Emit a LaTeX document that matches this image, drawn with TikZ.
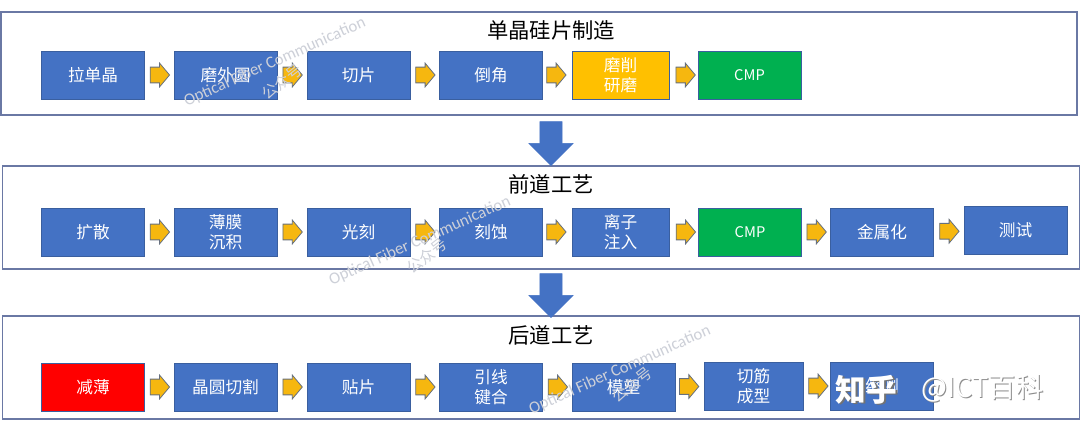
\documentclass[tikz,border=0pt]{standalone}
\usepackage{xcolor}
\usepackage{fontspec}
\setmainfont{Noto Sans CJK SC}
\newfontfamily\latinwm{Carlito}
\usetikzlibrary{shapes.arrows, positioning, calc}
\definecolor{stepblue}{HTML}{4472C4}
\definecolor{stepedge}{HTML}{3A5F9F}
\definecolor{paneledge}{HTML}{6A78A4}
\definecolor{stepgold}{HTML}{FFC000}
\definecolor{stepgreen}{HTML}{00B050}
\definecolor{arrowgold}{HTML}{F6B70F}
\definecolor{arrowedge}{HTML}{66707F}
\definecolor{markgray}{HTML}{CDD0D8}

\begin{document}
\begin{tikzpicture}[
    x=0.75pt, y=-0.75pt,
    panel/.style={draw=paneledge, line width=0.8pt, fill=white, minimum height=77.25pt},
    paneltitle/.style={font=\fontsize{16}{19}\selectfont, text=black, inner sep=0pt},
    stepbox/.style={draw=stepedge, line width=0.5pt, fill=stepblue, text=white, minimum width=77pt, minimum height=36pt, inner sep=0pt, align=center, font=\fontsize{12.5}{15}\selectfont},
    cmpbox/.style={stepbox, fill=stepgreen, font=\fontsize{11}{13}\selectfont},
    flowarrow/.style={single arrow, draw=arrowedge, line width=0.6pt, fill=arrowgold, minimum height=14.5pt, single arrow head extend=3pt, single arrow tip angle=100, inner xsep=0pt, inner ysep=5.6pt, xshift=-2pt},
    stagearrow/.style={single arrow, shape border rotate=270, fill=stepblue, draw=stepblue, line width=0.3pt, minimum height=33pt, single arrow head extend=8.25pt, single arrow tip angle=90, inner xsep=8.25pt, inner ysep=0pt},
    markline/.style={rotate=24, text=markgray, inner sep=0pt, font=\latinwm\fontsize{12.5}{14}\selectfont},
    markname/.style={rotate=38, text=markgray, inner sep=0pt, font=\fontsize{11.5}{13}\selectfont}
]
    \useasboundingbox (0,0) rectangle (1080,436);
    \fill[white] (0,0) rectangle (1080,436);

    % Panels
    \node[panel, minimum width=807pt] (waferpanel) at (539,63.5) {};
    \node[panel, minimum width=807.5pt] (frontpanel) at (541,217.5) {};
    \node[panel, minimum width=807.5pt] (backpanel) at (541,367.5) {};
    \node[paneltitle] (wafertitle) at (551,30) {单晶硅片制造};
    \node[paneltitle] (fronttitle) at (551,184) {前道工艺};
    \node[paneltitle] (backtitle) at (551,335) {后道工艺};

    % Wafer steps
    \node[stepbox] (pull) at (93,75) {拉单晶};
    \node[stepbox] (round) at (225.5,75) {磨外圆};
    \node[stepbox] (slice) at (358.5,75) {切片};
    \node[stepbox] (bevel) at (491,75) {倒角};
    \node[stepbox, fill=stepgold, minimum width=73pt] (lap) at (620.5,75) {磨削\\研磨};
    \node[cmpbox] (wafercmp) at (749.5,75) {CMP};

    % Front end steps
    \node[stepbox] (diffuse) at (93,232) {扩散};
    \node[stepbox] (film) at (225.5,232) {薄膜\\沉积};
    \node[stepbox] (litho) at (358.5,232) {光刻};
    \node[stepbox] (etch) at (491,232) {刻蚀};
    \node[stepbox, minimum width=73pt] (implant) at (620.5,232) {离子\\注入};
    \node[cmpbox] (frontcmp) at (750,232) {CMP};
    \node[stepbox] (metal) at (882,232) {金属化};
    \node[stepbox] (probe) at (1015.5,230.5) {测试};

    % Back end steps
    \node[stepbox, fill=red] (thin) at (93,387) {减薄};
    \node[stepbox] (dice) at (225.5,387) {晶圆切割};
    \node[stepbox] (attach) at (358.5,387) {贴片};
    \node[stepbox] (bond) at (491,387) {引线\\键合};
    \node[stepbox] (mold) at (623.5,387) {模塑};
    \node[stepbox, minimum width=74pt] (trim) at (753.5,386) {切筋\\成型};
    \node[stepbox] (final) at (882,386) {终测};

    % Arrows
    \node[flowarrow] (w1) at ($(pull)!0.5!(round)$) {};
    \node[flowarrow] (w2) at ($(round)!0.5!(slice)$) {};
    \node[flowarrow] (w3) at ($(slice)!0.5!(bevel)$) {};
    \node[flowarrow] (w4) at ($(bevel)!0.5!(lap)$) {};
    \node[flowarrow] (w5) at ($(lap)!0.5!(wafercmp)$) {};
    \node[flowarrow] (f1) at ($(diffuse)!0.5!(film)$) {};
    \node[flowarrow] (f2) at ($(film)!0.5!(litho)$) {};
    \node[flowarrow] (f3) at ($(litho)!0.5!(etch)$) {};
    \node[flowarrow] (f4) at ($(etch)!0.5!(implant)$) {};
    \node[flowarrow] (f5) at ($(implant)!0.5!(frontcmp)$) {};
    \node[flowarrow] (f6) at ($(frontcmp)!0.5!(metal)$) {};
    \node[flowarrow] (f7) at ($(metal)!0.5!(probe)$) {};
    \node[flowarrow] (b1) at ($(thin)!0.5!(dice)$) {};
    \node[flowarrow] (b2) at ($(dice)!0.5!(attach)$) {};
    \node[flowarrow] (b3) at ($(attach)!0.5!(bond)$) {};
    \node[flowarrow] (b4) at ($(bond)!0.5!(mold)$) {};
    \node[flowarrow] (b5) at ($(mold)!0.5!(trim)$) {};
    \node[flowarrow] (b6) at ($(trim)!0.5!(final)$) {};
    \node[stagearrow] (wafertofront) at (551,138) {};
    \node[stagearrow] (fronttoback) at (551,290) {};

    % Watermarks
    \node[markline] (mark1) at (275,62) {Optical Fiber Communication};
    \node[markname] (name1) at (282,82) {公众号};
    \node[markline] (mark2) at (420,241) {Optical Fiber Communication};
    \node[markname] (name2) at (427,256) {公众号};
    \node[markline] (mark3) at (620,370) {Optical Fiber Communication};
    \node[markname] (name3) at (632,385) {公众号};
    \node[text=black!55, inner sep=0pt, font=\bfseries\fontsize{23}{27}\selectfont] (zhihushadow) at (868,391) {知乎};
    \node[text=white, inner sep=0pt, font=\bfseries\fontsize{23}{27}\selectfont] (zhihu) at (866.5,389.5) {知乎};
    \node[text=black!45, inner sep=0pt, font=\fontsize{20.5}{24}\selectfont] (ictshadow) at (983.5,389.5) {@ICT百科};
    \node[text=white, inner sep=0pt, font=\fontsize{20.5}{24}\selectfont] (ict) at (982.5,388.5) {@ICT百科};
\end{tikzpicture}
\end{document}
